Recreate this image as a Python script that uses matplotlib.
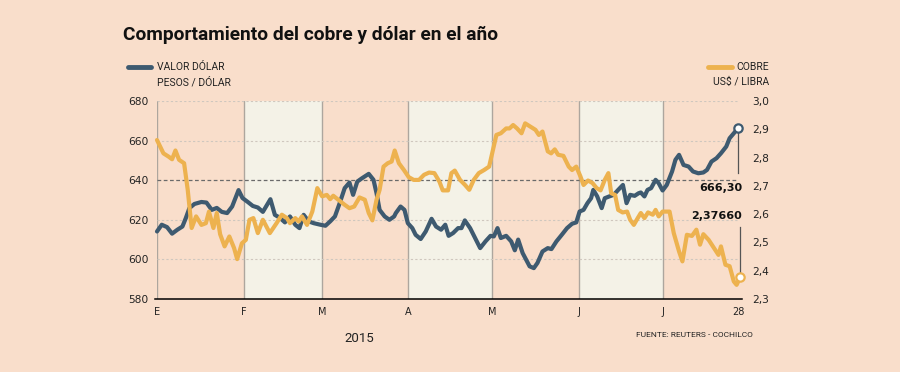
import matplotlib.pyplot as plt

# dias desde el 1 de enero de 2015
dolar_dia = [0, 1.7, 3.6, 5.4, 7.3, 9.1, 10.3, 11.6, 13.4, 15.9, 17.7, 19.6, 21.4, 23.2, 25.1,
             26.9, 29.2, 30.6, 32.5, 34.3, 36.1, 37.9, 40.6, 42.2, 44, 45.8, 47.6, 49.5, 51,
             52.5, 54.3, 56.1, 58.5, 60.3, 62, 63.7, 65.4, 67.2, 68.9, 70.2, 71.7, 73.4, 75.8,
             77.5, 78.6, 79.7, 81.5, 83.2, 84.9, 85.5, 87.2, 88.6, 89.8, 91.4, 92.6, 94.4, 96.2,
             98.3, 99.9, 101.7, 103.2, 104.4, 106, 107.8, 109, 110.2, 112.1, 113.9, 115.7, 117.6,
             119.4, 120.6, 121.9, 123.1, 125, 126.8, 128.1, 129.3, 130.9, 133.4, 134.9, 136.2,
             138, 139.9, 141.2, 143, 144.9, 146.8, 148.6, 150.1, 151.3, 152.7, 154.1, 155.4,
             156.2, 157.6, 159.2, 160.3, 161.9, 163.5, 165.1, 166.8, 168.1, 169.4, 171, 172.4,
             173.2, 174.5, 175.6, 176.9, 178.5, 179.6, 181, 182.5, 184.4, 185.6, 186.9, 188.5,
             190.3, 191.9, 193.8, 195.6, 196.9, 198.5, 200.3, 201.9, 203.8, 205, 206.5, 208]
dolar = [614.1, 617.5, 616.3, 613, 615, 616.6, 620.8, 625.9, 628, 629, 628.7, 625, 626, 624, 623.4,
         626.7, 635, 631, 629, 627, 626.2, 624, 630.4, 622.5, 621, 618.7, 621.7, 617.5, 615.8,
         622.5, 619.2, 618.3, 617.5, 617, 619.2, 621.7, 628.4, 636, 638.8, 632.6, 639.3, 641, 643.2,
         640.2, 633.4, 625, 621.7, 620, 621.7, 623.4, 626.7, 625, 618.3, 615.8, 612.4, 610.3, 614.1,
         620.5, 616.6, 615, 617.5, 611.9, 613.3, 615.8, 615.8, 619.7, 615.8, 610.8, 605.7, 609.1,
         611.9, 611.6, 615.8, 610.8, 611.9, 609.1, 604.6, 610, 603.2, 596.5, 595.6, 598.2,
         604, 605.7, 605.2, 609.1, 612.4, 615.8, 618, 618.7, 624.2, 625, 628.4, 630.9,
         635.1, 631.8, 625.9, 630.9, 631.8, 632.6, 635.1, 637.6, 628.4, 632.6, 632.1, 633.4,
         633.8, 631.8, 635.1, 636, 640.2, 638.5, 634.8, 637.6, 644.4, 650.3, 652.8, 647.7,
         646.9, 644.4, 643.5, 643.9, 645.2, 649.4, 651.1, 653.6, 657, 661.2, 663.7, 666.3]

cobre_dia = [0, 2.3, 4.2, 5.4, 6.6, 7.9, 9.7, 11, 12.4, 14, 15.9, 17.5, 18.6, 20.2, 21.4, 22.6,
             24.2, 25.9, 27.6, 28.7, 30.4, 31.8, 33.1, 34.5, 36.1, 37.9, 40.4, 42.8, 44.7, 46.5,
             47.6, 49.5, 50.7, 51.9, 53.7, 55.6, 57.4, 59.1, 60.8, 62, 63.1, 64.9, 67.2, 68.9,
             70.6, 72.5, 74.4, 75.8, 77.1, 78.6, 79.7, 81.1, 82.6, 84, 85.1, 86.6, 88.4, 90.1,
             91.9, 93.8, 95.6, 97.4, 99.3, 101.1, 102.3, 104.2, 105.4, 106.6, 108.5, 110.3, 111.8,
             113.4, 115.2, 117.1, 118.9, 120, 121.5, 123.1, 125, 126.2, 127.5, 128.9, 130.5, 131.8,
             133.6, 135.5, 136.7, 138, 139.9, 141.1, 142.4, 143.6, 145.5, 147.4, 148.6, 150.1,
             151.6, 152.7, 154.3, 155.9, 157.4, 158.8, 160.3, 161.6, 162.6, 164, 165.1, 166.7,
             168.3, 169.4, 170.7, 172.1, 173.2, 174.5, 175.8, 177.5, 178.5, 179.6, 181, 183.5,
             185, 186.9, 188.1, 189.7, 191.5, 193.1, 194.4, 195.6, 197.5, 199.4, 201, 201.9,
             203.5, 205, 206.5, 207.5, 208.8]
cobre = [2.862, 2.815, 2.803, 2.794, 2.825, 2.792, 2.780, 2.686, 2.551, 2.592, 2.562, 2.568, 2.609,
         2.551, 2.604, 2.529, 2.486, 2.521, 2.480, 2.441, 2.497, 2.509, 2.58, 2.586, 2.533, 2.58,
         2.533, 2.568, 2.598, 2.586, 2.568, 2.586, 2.574, 2.592, 2.562, 2.609, 2.692, 2.663, 2.668,
         2.653, 2.665, 2.651, 2.633, 2.621, 2.627, 2.659, 2.651, 2.604, 2.578, 2.651, 2.686, 2.768,
         2.780, 2.786, 2.825, 2.780, 2.756, 2.731, 2.721, 2.721, 2.739, 2.747, 2.745, 2.715, 2.684,
         2.684, 2.745, 2.754, 2.721, 2.703, 2.686, 2.721, 2.745, 2.756, 2.768, 2.815, 2.880, 2.886,
         2.903, 2.903, 2.915, 2.903, 2.886, 2.921, 2.910, 2.898, 2.880, 2.892, 2.822, 2.815, 2.829,
         2.810, 2.806, 2.768, 2.756, 2.768, 2.733, 2.703, 2.719, 2.710, 2.692, 2.684, 2.721, 2.745,
         2.674, 2.668, 2.615, 2.606, 2.609, 2.58, 2.562, 2.586, 2.604, 2.586, 2.606, 2.598, 2.615,
         2.592, 2.609, 2.609, 2.533, 2.468, 2.433, 2.527, 2.523, 2.545, 2.492, 2.529, 2.509, 2.480,
         2.456, 2.486, 2.421, 2.416, 2.362, 2.350, 2.3766]

meses_dia = [0, 31, 59, 90, 120, 151, 181, 208]
meses = ['E', 'F', 'M', 'A', 'M', 'J', 'J', '28']
bandas = [(31, 59), (90, 120), (151, 181)]
ticks_dolar = [580, 600, 620, 640, 660, 680]
ticks_cobre = [2.3, 2.4, 2.5, 2.6, 2.7, 2.8, 2.9, 3.0]

fondo = '#F9DECB'
banda = '#F4F2E7'
azul = '#3E5A70'
naranjo = '#EDB24F'
narrow = ['Roboto', 'DejaVu Sans']

fig = plt.figure(figsize=(9, 3.72), dpi=100)
fig.patch.set_facecolor(fondo)
ax = fig.add_axes([157/900, 1-299/372, 581/900, 198/372])
ax.set_facecolor(fondo)
ax.set_xlim(0, 208)
ax.set_ylim(580, 680)

for a, b in bandas:
    ax.axvspan(a, b, color=banda, zorder=0, lw=0)
for d in meses_dia[:-1]:
    ax.axvline(d, color='#ADA69E', lw=1, zorder=1)
for t in ticks_dolar[1:]:
    if t == 640:
        ax.axhline(t, color='#6a6a6a', lw=0.9, ls=(0, (3, 2)), zorder=1)
    else:
        ax.axhline(t, color='#CFC7BE', lw=0.8, ls=(0, (2, 2)), zorder=1)
ax.axhline(580, xmin=-0.004, xmax=1.007, color='black', lw=1.1, clip_on=False, zorder=3)

for s in ax.spines.values():
    s.set_visible(False)
ax.set_yticks(ticks_dolar)
ax.set_yticklabels([str(t) for t in ticks_dolar], fontsize=7.7, color='#222222')
ax.set_xticks(meses_dia)
ax.set_xticklabels(meses, fontsize=7, color='#222222')
ax.tick_params(length=0, pad=6)

ax.plot(dolar_dia, dolar, color=azul, lw=3, solid_joinstyle='round', solid_capstyle='round',
        zorder=4, clip_on=False)
ax.plot(dolar_dia[-1], dolar[-1], 'o', ms=6, mfc='white', mec=azul, mew=1.6, zorder=6, clip_on=False)

ax2 = ax.twinx()
ax2.set_ylim(2.3, 3.0)
ax2.patch.set_visible(False)
for s in ax2.spines.values():
    s.set_visible(False)
ax2.set_yticks(ticks_cobre)
ax2.set_yticklabels([f'{t:.1f}'.replace('.', ',') for t in ticks_cobre], fontsize=7.7, color='#222222')
ax2.tick_params(length=0, pad=10)
ax2.plot(cobre_dia, cobre, color=naranjo, lw=3, solid_joinstyle='round', solid_capstyle='round',
         zorder=4, clip_on=False)
ax2.plot(cobre_dia[-1], cobre[-1], 'o', ms=6, mfc='white', mec=naranjo, mew=1.6, zorder=6, clip_on=False)

# etiquetas de cierre
ax.plot([dolar_dia[-1]] * 2, [dolar[-1] - 2, 643.5], color='#555555', lw=0.9, zorder=5,
        clip_on=False)
ax.text(209.5, 636.3, f'{dolar[-1]:.2f}'.replace('.', ','), ha='right', va='center',
        fontsize=8, fontweight='bold', color='#111111', zorder=7)
ax2.plot([cobre_dia[-1]] * 2, [2.3766 + 0.017, 2.555], color='#555555', lw=0.9, zorder=5,
         clip_on=False)
ax2.text(209.5, 2.595, '2,37660', ha='right', va='center',
         fontsize=8, fontweight='bold', color='#111111', zorder=7)

# titulo y leyendas
fig.text(123/900, 1-35/372, 'Comportamiento del cobre y dólar en el año', fontsize=13.8,
         fontweight='bold', family=narrow, color='#111111', va='center')
fig.add_artist(plt.Line2D([128/900, 151/900], [1-67/372]*2, color=azul, lw=3.5,
                          solid_capstyle='round'))
fig.text(157/900, 1-67/372, 'VALOR DÓLAR', fontsize=7.5, family=narrow, color='#222222', va='center')
fig.text(157/900, 1-82/372, 'PESOS / DÓLAR', fontsize=7.5, family=narrow, color='#222222', va='center')
fig.add_artist(plt.Line2D([708/900, 732/900], [1-67/372]*2, color=naranjo, lw=3.5,
                          solid_capstyle='round'))
fig.text(769/900, 1-67/372, 'COBRE', fontsize=7.5, family=narrow, color='#222222',
         va='center', ha='right')
fig.text(769/900, 1-82/372, 'US$ / LIBRA', fontsize=7.5, family=narrow, color='#222222',
         va='center', ha='right')

fig.text(359/900, 1-338/372, '2015', fontsize=9.5, family=narrow, color='#222222',
         va='center', ha='center')
fig.text(753/900, 1-335/372, 'FUENTE: REUTERS - COCHILCO', fontsize=6, family=narrow,
         color='#222222', va='center', ha='right')

fig.savefig('out.png', dpi=100, facecolor=fondo)
